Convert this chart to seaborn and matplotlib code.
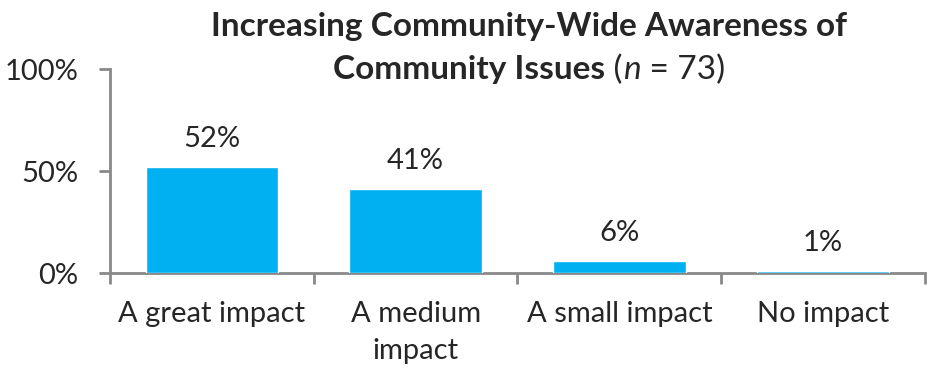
import matplotlib
matplotlib.use("Agg")
import matplotlib.pyplot as plt
import seaborn as sns
import pandas as pd

categories = ["A great impact", "A medium\nimpact", "A small impact", "No impact"]
values = [52, 41, 6, 1]
y_ticks = [0, 50, 100]
y_tick_labels = ["0%", "50%", "100%"]

sns.set_theme(style="white")
plt.rcParams["font.family"] = ["Lato", "DejaVu Sans"]

df = pd.DataFrame({"category": categories, "value": values})

W, H = 928, 370
fig = plt.figure(figsize=(W / 100, H / 100), dpi=100)
ax = fig.add_axes([110 / W, 97 / H, 815 / W, 204 / H])

sns.barplot(data=df, x="category", y="value", color="#00B0F0",
            saturation=1, width=0.65, ax=ax, zorder=3)

grey = "#898989"
ax.set_ylim(0, 100)
ax.set_xlim(-0.5, len(categories) - 0.5)
ax.set_yticks(y_ticks)
ax.set_yticklabels(y_tick_labels, fontsize=21)
ax.tick_params(axis="y", length=8, width=2, color=grey, pad=15, left=True)
ax.set_xticks(range(len(categories)))
ax.set_xticklabels(categories, fontsize=21, linespacing=1.55)
ax.tick_params(axis="x", which="major", length=0, pad=20)
ax.set_xticks([i - 0.5 for i in range(len(categories) + 1)], minor=True)
ax.tick_params(axis="x", which="minor", length=8, width=2, color=grey, bottom=True)
ax.set_xlabel("")
ax.set_ylabel("")

for side in ["top", "right"]:
    ax.spines[side].set_visible(False)
for side in ["left", "bottom"]:
    ax.spines[side].set_color(grey)
    ax.spines[side].set_linewidth(2)
    ax.spines[side].set_zorder(1)

for i, v in enumerate(values):
    ax.annotate(f"{v}%", (i, v), xytext=(0, 14.5), textcoords="offset points",
                ha="center", va="baseline", fontsize=21)

# Title: first line bold, second line mixes bold, regular and italic runs
title_size = 24
cx = 529
fig.text(cx / W, 1 - 36 / H, "Increasing Community-Wide Awareness of",
         ha="center", va="baseline", fontsize=title_size, fontweight="bold")

runs = [("Community Issues", "bold", "normal"), (" (", "normal", "normal"),
        ("n", "normal", "italic"), (" = 73)", "normal", "normal")]
fig.canvas.draw()
renderer = fig.canvas.get_renderer()
texts = []
for s, w, st in runs:
    t = fig.text(0, 1 - 79 / H, s, ha="left", va="baseline", fontsize=title_size,
                 fontweight=w, fontstyle=st)
    texts.append(t)
widths = [t.get_window_extent(renderer).width for t in texts]
x0 = cx - sum(widths) / 2
for t, w in zip(texts, widths):
    t.set_x(x0 / W)
    x0 += w

fig.savefig("out.png", dpi=100)
